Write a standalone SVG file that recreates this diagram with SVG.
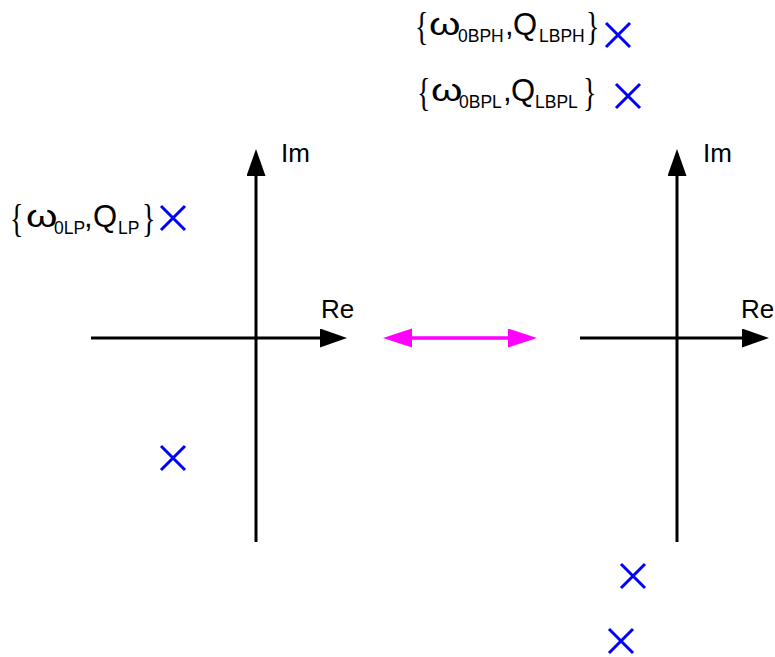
<svg xmlns="http://www.w3.org/2000/svg" width="775" height="657" viewBox="0 0 775 657">
<style>
.ax{stroke:#000;stroke-width:3;fill:none}
.mg{stroke:#FF00FF;stroke-width:3;fill:none}
.pole{stroke:#0000FF;stroke-width:3;fill:none}
.t{font-family:"Liberation Sans",Arial,sans-serif;fill:#000}
.m{font-size:31px}
.s{font-size:17.5px}
.ax-l{font-size:26px}
.br{font-family:"Liberation Serif","Times New Roman",serif;font-size:40px;fill:#000}
</style>
<defs>
<marker id="ah" markerUnits="userSpaceOnUse" markerWidth="28" markerHeight="20" refX="0" refY="9.5" orient="auto">
<path d="M0,0 L27,9.5 L0,19 z" fill="#000"/>
</marker>
<marker id="mh" markerUnits="userSpaceOnUse" markerWidth="30" markerHeight="20" refX="0" refY="9.5" orient="auto">
<path d="M0,0 L29,9.5 L0,19 z" fill="#FF00FF"/>
</marker>
<path id="x" d="M-12,-12 L12,12 M12,-12 L-12,12"/>
</defs>
<rect width="775" height="657" fill="#fff"/>
<g id="axes-left">
<line class="ax" x1="256" y1="542" x2="256" y2="176" marker-end="url(#ah)"/>
<line class="ax" x1="91" y1="338" x2="320" y2="338" marker-end="url(#ah)"/>
<text class="t ax-l" x="281" y="162">Im</text>
<text class="t ax-l" x="321" y="318">Re</text>
</g>
<g id="axes-right">
<line class="ax" x1="677" y1="542" x2="677" y2="176" marker-end="url(#ah)"/>
<line class="ax" x1="580" y1="338" x2="742" y2="338" marker-end="url(#ah)"/>
<text class="t ax-l" x="703" y="162">Im</text>
<text class="t ax-l" x="741" y="318">Re</text>
</g>
<g id="poles-left">
<use href="#x" class="pole" x="173" y="218"/>
<use href="#x" class="pole" x="173" y="458"/>
</g>
<g id="poles-right">
<use href="#x" class="pole" x="618" y="35"/>
<use href="#x" class="pole" x="628" y="96"/>
<use href="#x" class="pole" x="633" y="576"/>
<use href="#x" class="pole" x="621" y="641"/>
</g>
<g id="label-BPH">
<text class="br" transform="translate(415,40) scale(0.7,1)">{</text>
<text class="t m" transform="translate(429,35) scale(1.3,1)">ω</text>
<text class="t s" x="458" y="42">0BPH</text>
<text class="t m" x="505" y="35">,</text>
<text class="t m" x="513" y="35">Q</text>
<text class="t s" x="539" y="42">LBPH</text>
<text class="br" transform="translate(586,40) scale(0.7,1)">}</text>
</g>
<g id="label-BPL">
<text class="br" transform="translate(417,106) scale(0.7,1)">{</text>
<text class="t m" transform="translate(431,101) scale(1.3,1)">ω</text>
<text class="t s" x="459" y="108">0BPL</text>
<text class="t m" x="503" y="101">,</text>
<text class="t m" x="511" y="101">Q</text>
<text class="t s" x="535" y="108">LBPL</text>
<text class="br" transform="translate(583,106) scale(0.7,1)">}</text>
</g>
<g id="label-LP">
<text class="br" transform="translate(10,232) scale(0.7,1)">{</text>
<text class="t m" transform="translate(26,227) scale(1.3,1)">ω</text>
<text class="t s" x="54" y="234">0LP</text>
<text class="t m" x="84" y="227">,</text>
<text class="t m" x="93" y="227">Q</text>
<text class="t s" x="118" y="234">LP</text>
<text class="br" transform="translate(142,232) scale(0.7,1)">}</text>
</g>
<g id="connectors">
<line class="mg" x1="508" y1="338" x2="412" y2="338" marker-end="url(#mh)"/>
<line class="mg" x1="412" y1="338" x2="508" y2="338" marker-end="url(#mh)"/>
</g>
</svg>
